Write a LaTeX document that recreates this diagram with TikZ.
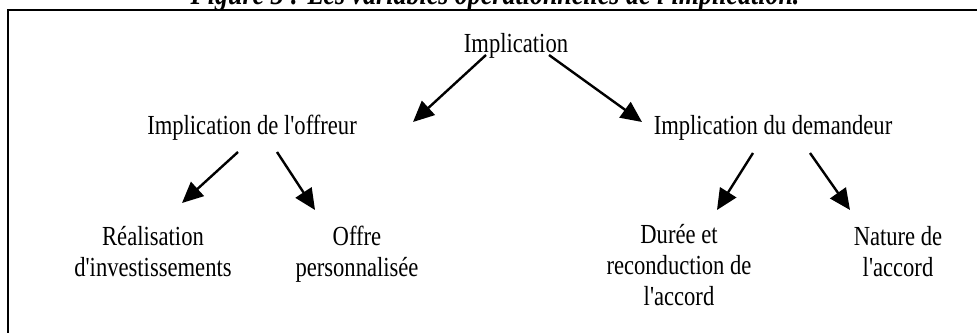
\documentclass[tikz,border=0pt]{standalone}
\usepackage{fontspec}
\setmainfont{Liberation Serif}
\usetikzlibrary{arrows.meta}
\begin{document}
\begin{tikzpicture}[x=1pt,y=-1pt,
  lbl/.style={font=\fontsize{22.6}{25.4}\selectfont, inner sep=0pt, align=center, anchor=base, yscale=1.22},
  arr/.style={line width=2.4pt, -{Triangle[length=21pt,width=19pt]}},
  frame/.style={line width=2pt}]
\useasboundingbox (0,0) rectangle (977,332);
\begin{scope}
  \clip (0,0) rectangle (977,332);
  \node[lbl, font=\fontsize{26}{29}\selectfont\bfseries\itshape] (title) at (495,5)
    {Figure 3 : Les variables opérationnelles de l\textquotesingle implication.};
  \draw[frame] (8,345) -- (8,10) -- (990,10);
\end{scope}
% nodes (base = baseline of the last line)
\node[lbl] (imp) at (516,52) {Implication};
\node[lbl] (off) at (252,134) {Implication de l\textquotesingle offreur};
\node[lbl] (dem) at (773,134) {Implication du demandeur};
\node[lbl] (rea) at (153,276) {Réalisation\\d\textquotesingle investissements};
\node[lbl] (per) at (357,276) {Offre\\personnalisée};
\node[lbl] (dur) at (679,305) {Durée et\\reconduction de\\l\textquotesingle accord};
\node[lbl] (nat) at (898,276) {Nature de\\l\textquotesingle accord};
% connector ends
\coordinate (imp-l) at (486,55);
\coordinate (imp-r) at (549,55);
\coordinate (off-l) at (413,122);
\coordinate (dem-t) at (642,122);
\coordinate (off-a) at (238,152);
\coordinate (off-b) at (277,152);
\coordinate (rea-t) at (182,203);
\coordinate (per-t) at (315,210);
\coordinate (dem-a) at (753,153);
\coordinate (dem-b) at (810,153);
\coordinate (dur-t) at (717,210);
\coordinate (nat-t) at (850,210);
\draw[arr] (imp-l) -- (off-l);
\draw[arr] (imp-r) -- (dem-t);
\draw[arr] (off-a) -- (rea-t);
\draw[arr] (off-b) -- (per-t);
\draw[arr] (dem-a) -- (dur-t);
\draw[arr] (dem-b) -- (nat-t);
\end{tikzpicture}
\end{document}
